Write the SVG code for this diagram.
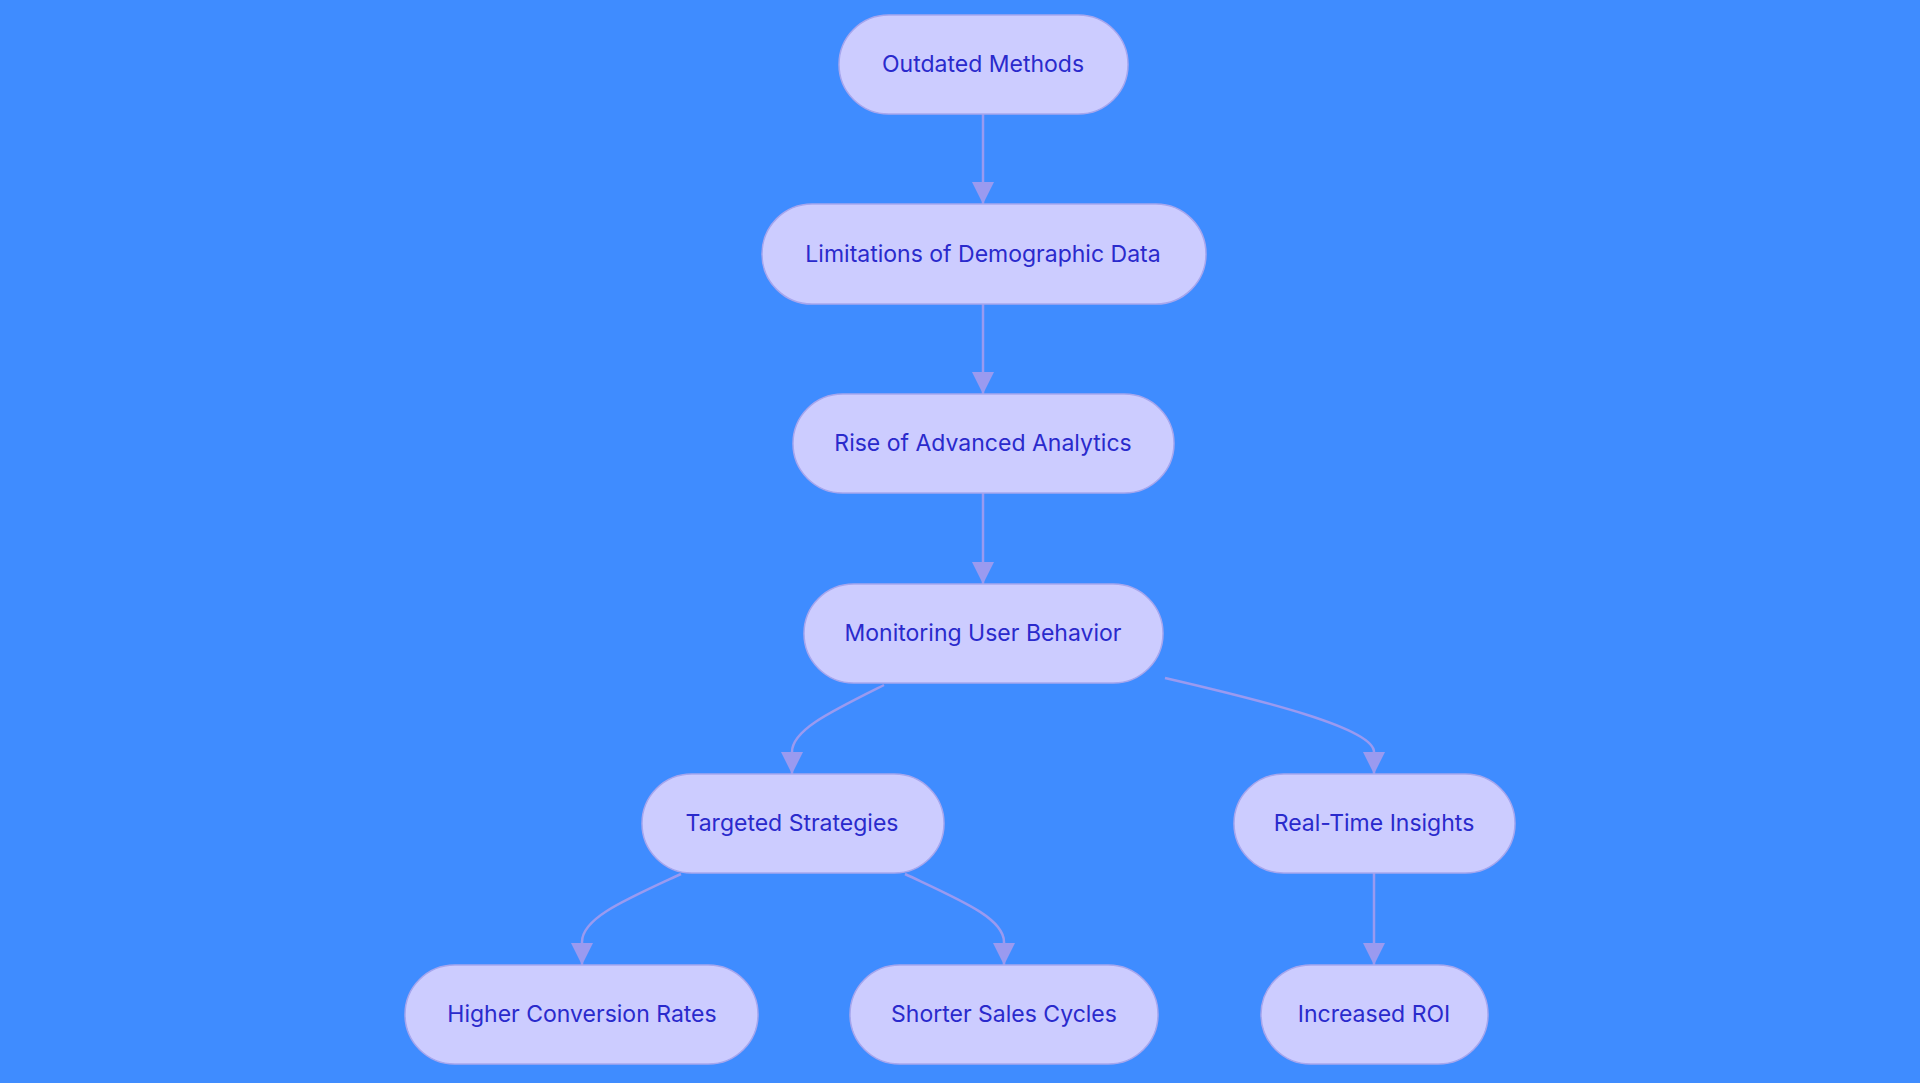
<svg xmlns="http://www.w3.org/2000/svg" width="1920" height="1083" viewBox="0 0 1920 1083">
<style>
.n rect{fill:#CCCCFF;stroke:#A6A6EE;stroke-width:1.5}
.n text{font-family:Inter,"Noto Sans",sans-serif;font-size:23px;fill:#2A2ACC;text-anchor:middle;dominant-baseline:central}
.e path{fill:none;stroke:#9A9AF0;stroke-width:2.5;marker-end:url(#a)}
</style>
<defs><marker id="a" viewBox="0 0 10 10" refX="9" refY="5" markerWidth="8" markerHeight="8" markerUnits="userSpaceOnUse" orient="auto"><path d="M0,0L10,5L0,10z" fill="#9A9AF0"/></marker>
<marker id="b" viewBox="0 0 10 10" refX="10" refY="5" markerWidth="22" markerHeight="22" markerUnits="userSpaceOnUse" orient="auto"><path d="M0,0L10,5L0,10z" fill="#9A9AF0"/></marker></defs>
<rect width="1920" height="1083" fill="#3F8CFF"/>
<g class="e" style="--x:0">
<path d="M983,114V204" style="marker-end:url(#b)"/>
<path d="M983,304V394" style="marker-end:url(#b)"/>
<path d="M983,493V584" style="marker-end:url(#b)"/>
<path d="M884,685C830,712 792,730 792,752V774" style="marker-end:url(#b)"/>
<path d="M1165,678C1260,700 1374,728 1374,752V774" style="marker-end:url(#b)"/>
<path d="M681,874C625,900 582,918 582,942V965" style="marker-end:url(#b)"/>
<path d="M905,874C960,900 1004,918 1004,942V965" style="marker-end:url(#b)"/>
<path d="M1374,873V965" style="marker-end:url(#b)"/>
</g>
<g id="n1" class="n"><rect x="839" y="15" width="289" height="99" rx="49.5"/><text x="983" y="64">Outdated Methods</text></g>
<g id="n2" class="n"><rect x="762" y="204" width="444" height="100" rx="50"/><text x="983" y="254">Limitations of Demographic Data</text></g>
<g id="n3" class="n"><rect x="793" y="394" width="381" height="99" rx="49.5"/><text x="983" y="443">Rise of Advanced Analytics</text></g>
<g id="n4" class="n"><rect x="804" y="584" width="359" height="99" rx="49.5"/><text x="983" y="633">Monitoring User Behavior</text></g>
<g id="n5" class="n"><rect x="642" y="774" width="302" height="99" rx="49.5"/><text x="792" y="823">Targeted Strategies</text></g>
<g id="n6" class="n"><rect x="1234" y="774" width="281" height="99" rx="49.5"/><text x="1374" y="823">Real-Time Insights</text></g>
<g id="n7" class="n"><rect x="405" y="965" width="353" height="99" rx="49.5"/><text x="582" y="1014">Higher Conversion Rates</text></g>
<g id="n8" class="n"><rect x="850" y="965" width="308" height="99" rx="49.5"/><text x="1004" y="1014">Shorter Sales Cycles</text></g>
<g id="n9" class="n"><rect x="1261" y="965" width="227" height="99" rx="49.5"/><text x="1374" y="1014">Increased ROI</text></g>
</svg>
